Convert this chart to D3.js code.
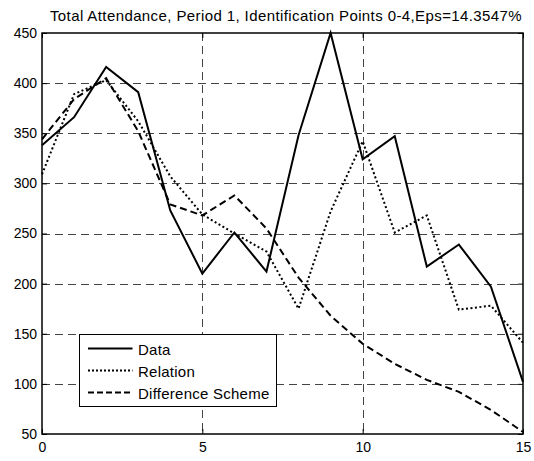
<!DOCTYPE html>
<html>
<head>
<meta charset="utf-8">
<script src="https://cdn.jsdelivr.net/npm/d3@7"></script>
<style>
  body { margin: 0; background: #fff; }
  text { font-family: "Liberation Sans", Arial, sans-serif; fill: #000; }
</style>
</head>
<body>
<svg id="chart" width="534" height="461"></svg>
<script>
const xValues    = d3.range(0, 16);
const dataSeries = [338, 366, 416, 391, 273, 210, 251, 212, 348, 450, 324, 347, 217, 239, 197, 102];
const relation   = [309, 389, 403, 362, 307, 269, 250, 232, 175, 272, 342, 251, 268, 174, 178, 141];
const difference = [344, 384, 405, 352, 279, 268, 288, 255, 206, 168, 140, 120, 104,  92,  74,  52];
const xTicks = [0, 5, 10, 15];
const yTicks = [50, 100, 150, 200, 250, 300, 350, 400, 450];
const seriesNames = ["Data", "Relation", "Difference Scheme"];
const title = "Total Attendance, Period 1, Identification Points 0-4,Eps=14.3547%";

const width = 534, height = 461;
const margin = { top: 33, right: 11, bottom: 27, left: 42 };
const svg = d3.select("#chart");

const x = d3.scaleLinear().domain([0, 15]).range([margin.left, width - margin.right]);
const y = d3.scaleLinear().domain([50, 450]).range([height - margin.bottom, margin.top]);

// grid
const grid = svg.append("g")
    .attr("stroke", "#444")
    .attr("stroke-width", 1)
    .attr("stroke-dasharray", "8,5");
grid.selectAll(".gx").data(xTicks.slice(1, -1)).join("line")
    .attr("x1", d => Math.round(x(d)) + 0.5).attr("x2", d => Math.round(x(d)) + 0.5)
    .attr("y1", y(450)).attr("y2", y(50));
grid.selectAll(".gy").data(yTicks.slice(1, -1)).join("line")
    .attr("y1", d => Math.round(y(d)) + 0.5).attr("y2", d => Math.round(y(d)) + 0.5)
    .attr("x1", x(0)).attr("x2", x(15));

// series
const line = d3.line().x((d, i) => x(xValues[i])).y(d => y(d));
const styles = [
    { data: dataSeries, dash: null },
    { data: relation,   dash: "2,2.5" },
    { data: difference, dash: "7,4" },
];
styles.forEach(s => {
    svg.append("path")
        .datum(s.data)
        .attr("fill", "none")
        .attr("stroke", "#000")
        .attr("stroke-width", 2)
        .attr("stroke-dasharray", s.dash)
        .attr("d", line);
});

// axes box
svg.append("rect")
    .attr("x", x(0)).attr("y", y(450))
    .attr("width", x(15) - x(0)).attr("height", y(50) - y(450))
    .attr("fill", "none").attr("stroke", "#000").attr("stroke-width", 1.5);

const axB = svg.append("g").attr("transform", `translate(0,${y(50)})`)
    .call(d3.axisBottom(x).tickValues(xTicks).tickSizeInner(-5).tickSizeOuter(0).tickPadding(8));
const axT = svg.append("g").attr("transform", `translate(0,${y(450)})`)
    .call(d3.axisTop(x).tickValues(xTicks).tickSizeInner(-5).tickSizeOuter(0).tickFormat(""));
const axL = svg.append("g").attr("transform", `translate(${x(0)},0)`)
    .call(d3.axisLeft(y).tickValues(yTicks).tickSizeInner(-5).tickSizeOuter(0).tickPadding(5));
const axR = svg.append("g").attr("transform", `translate(${x(15)},0)`)
    .call(d3.axisRight(y).tickValues(yTicks).tickSizeInner(-5).tickSizeOuter(0).tickFormat(""));
[axB, axT, axL, axR].forEach(a => {
    a.select(".domain").remove();
    a.selectAll("line").attr("stroke", "#000");
    a.selectAll("text").attr("font-size", 14).attr("font-family", "Liberation Sans, Arial, sans-serif");
});

// title
svg.append("text")
    .attr("x", 286).attr("y", 20.5)
    .attr("text-anchor", "middle")
    .attr("font-size", 15)
    .attr("letter-spacing", 0.4)
    .text(title);

// legend
const lg = svg.append("g");
lg.append("rect")
    .attr("x", 79.5).attr("y", 334.5).attr("width", 197).attr("height", 72)
    .attr("fill", "#fff").attr("stroke", "#000").attr("stroke-width", 1);
const legendDash = [null, "2,2", "6,3"];
seriesNames.forEach((name, i) => {
    const cy = 348.5 + i * 22;
    lg.append("line")
        .attr("x1", 88).attr("x2", 132.5).attr("y1", cy).attr("y2", cy)
        .attr("stroke", "#000").attr("stroke-width", 2)
        .attr("stroke-dasharray", legendDash[i]);
    lg.append("text")
        .attr("x", 138).attr("y", cy + 6)
        .attr("font-size", 15)
        .attr("letter-spacing", 0.25)
        .text(name);
});
</script>
</body>
</html>
